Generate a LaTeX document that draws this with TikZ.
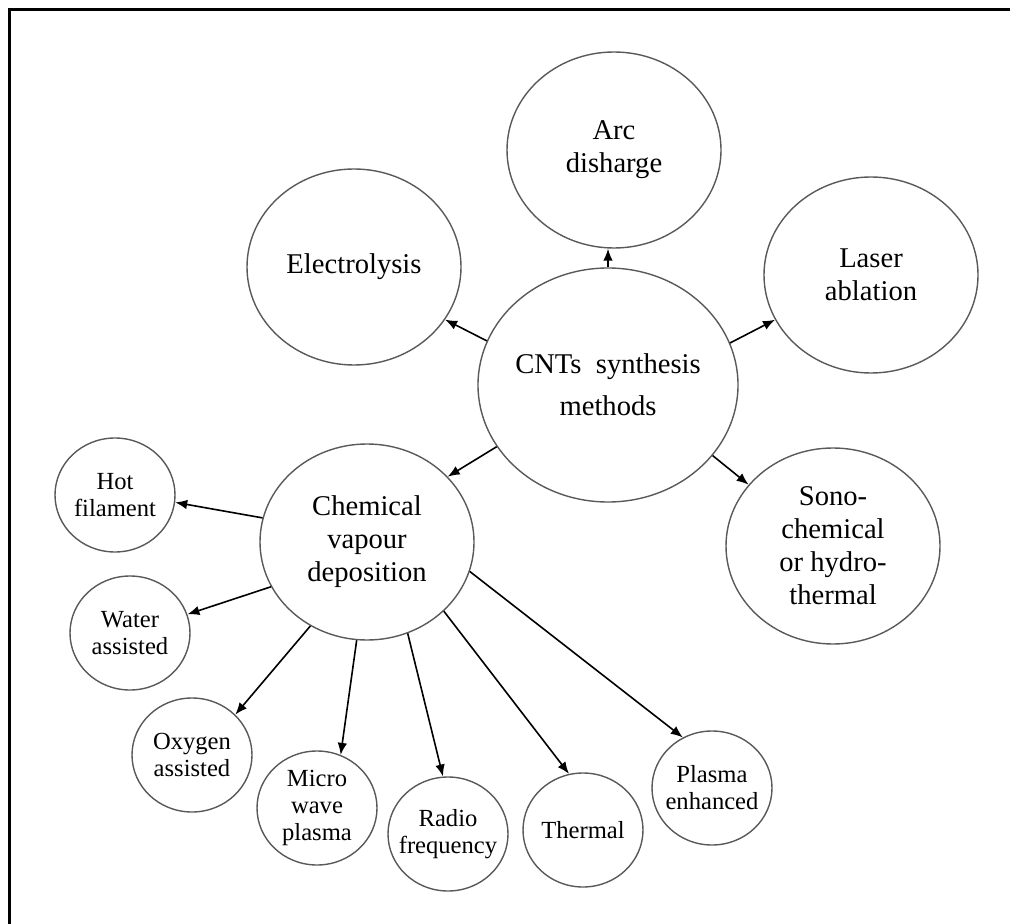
\documentclass[tikz,border=0pt]{standalone}
\usepackage{fontspec}
\setmainfont{Liberation Serif}
\usepackage{tikz}
\usetikzlibrary{calc, positioning, arrows.meta, shapes.geometric}

\begin{document}
\begin{tikzpicture}[x=0.5pt,y=-0.5pt,
	bigcirc/.style={ellipse, draw=black!65, line width=0.7pt, inner sep=-8pt, align=center,
		minimum width=107pt, minimum height=98pt,
		font=\fontsize{14.3pt}{16.5pt}\selectfont},
	smallcirc/.style={ellipse, draw=black!65, line width=0.7pt, inner sep=-8pt, align=center,
		minimum width=60pt, minimum height=57pt,
		font=\fontsize{12.3pt}{13.5pt}\selectfont},
	arr/.style={-{Latex[length=6pt,width=4.8pt]}, line width=0.8pt}]
\useasboundingbox (0,0) rectangle (1010,924);
\draw [line width=1.5pt] (1010,10) -- (9,10) -- (9,924);

	% Main methods
\node [bigcirc, minimum width=130pt, minimum height=117pt] (n0) at (608,385) {CNTs\ \ synthesis\\[4.5pt] methods};
\node [bigcirc] (n1) at (614,150) {Arc\\ disharge};
\node [bigcirc] (n2) at (354,267) {Electrolysis};
\node [bigcirc] (n3) at (871,275) {Laser\\ ablation};
\node [bigcirc] (n4) at (833,546) {Sono-\\ chemical\\ or hydro-\\ thermal};
\node [bigcirc] (n5) at (367,542) {Chemical\\ vapour\\ deposition};
\draw [arr] (n0.north) -- (n0.north |- n1.south);
\draw [arr] (n0.160) -- (n2.-30);
\draw [arr] (n0.19) -- (n3.-155);
\draw [arr] (n0.-34) -- (n4.144);
\draw [arr] (n0.-151) -- (n5.39);

	% CVD variants
\node [smallcirc] (c1) at (115,495) {Hot\\ filament};
\node [smallcirc] (c2) at (130,633) {Water\\ assisted};
\node [smallcirc] (c3) at (192,755) {Oxygen\\ assisted};
\node [smallcirc] (c4) at (317,808) {Micro\\ wave\\ plasma};
\node [smallcirc] (c5) at (448,834) {Radio\\ frequency};
\node [smallcirc] (c6) at (583,830) {Thermal};
\node [smallcirc] (c7) at (712,788) {Plasma\\ enhanced};
\draw [arr] (n5.167) -- (c1.-7);
\draw [arr] (n5.-155) -- (c2.18);
\draw [arr] (n5.-124) -- (c3.43);
\draw [arr] (n5.-96) -- (c4.66);
\draw [arr] (n5.-66) -- (c5.95);
\draw [arr] (n5.-42) -- (c6.104);
\draw [arr] (n5.-16) -- (c7.120);
\end{tikzpicture}
\end{document}
